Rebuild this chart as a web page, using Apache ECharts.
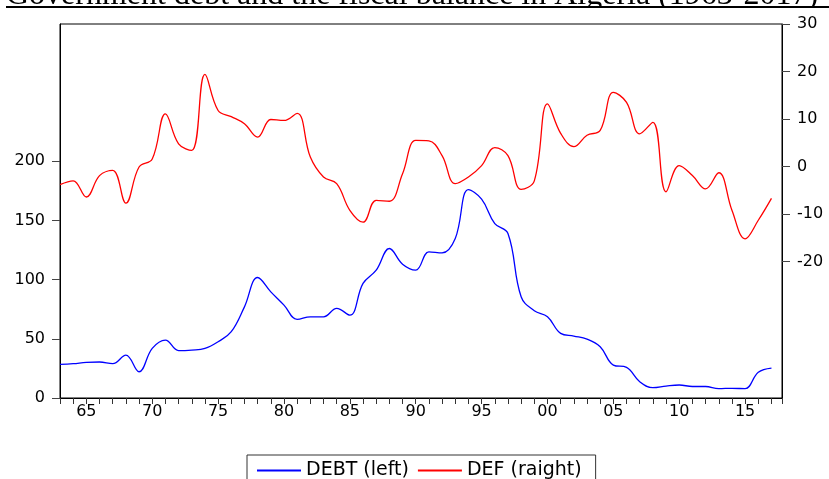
<!DOCTYPE html>
<html>
<head>
<meta charset="utf-8">
<script src="https://cdn.jsdelivr.net/npm/echarts@6/dist/echarts.min.js"></script>
<style>
html,body{margin:0;padding:0;background:#fff;}
#chart{width:829px;height:479px;}
</style>
</head>
<body>
<div id="chart"></div>
<script>
var years = [];
for (var y = 1963; y <= 2017; y++) years.push(y);

var debt = [28.4, 29, 30.1, 30.4, 29, 36.3, 22.2, 41.9, 48.9, 40,
  40.5, 41.9, 47.5, 56, 77, 101.8, 89.7, 78.5, 66.4, 68.6,
  68.6, 75.7, 70, 96.8, 108, 126.3, 113, 108, 123.5, 122.6,
  134.8, 176, 168, 147.4, 139, 85.5, 73.7, 68.6, 54.6, 52.3,
  49.8, 43.3, 27.8, 25.9, 13.8, 8.7, 10.1, 11, 9.7, 9.7,
  7.9, 8.2, 7.9, 21.7, 25.3];

var def = [-3.8, -3.0, -6.4, -1.9, -0.8, -7.7, -0.1, 1.6, 11.1, 4.8,
  3.4, 19.4, 11.8, 10.5, 9.0, 6.2, 9.9, 9.7, 11.2, 2.0,
  -2.2, -3.6, -9.2, -11.7, -7.1, -7.3, -1.5, 5.5, 5.4, 2.3,
  -3.6, -2.2, 0.2, 4.0, 2.3, -4.8, -3.0, 13.2, 7.0, 4.2,
  6.6, 7.6, 15.6, 13.5, 6.9, 9.3, -5.3, 0.2, -1.9, -4.7,
  -1.3, -9.2, -15.2, -11.3, -6.7];

var xLabelYears = [1965, 1970, 1975, 1980, 1985, 1990, 1995, 2000, 2005, 2010, 2015];
var leftTicks = [0, 50, 100, 150, 200];
var rightTicks = [-20, -10, 0, 10, 20, 30];
var titleText = 'Government debt and the fiscal balance in Algeria (1963-2017)';
var seriesNames = ['DEBT (left)', 'DEF (raight)'];
var seriesColors = ['#0000ff', '#ff0000'];

function pairs(vals) { return years.map(function (yr, i) { return [yr, vals[i]]; }); }

var font = 'DejaVu Sans';
var chart = echarts.init(document.getElementById('chart'));
chart.setOption({
  animation: false,
  backgroundColor: '#fff',
  graphic: [
    {type: 'text', left: 6, top: -20, z: 1,
      style: {text: titleText, font: '32px "Liberation Serif"', fill: '#000'}},
    {type: 'rect', shape: {x: 0, y: 8, width: 829, height: 5}, style: {fill: '#fff'}, z: 2},
    {type: 'rect', shape: {x: 6, y: 6, width: 823, height: 2}, style: {fill: '#000'}, z: 3}
  ],
  grid: {left: 60, right: 47, top: 24, bottom: 81, show: true, borderColor: '#000', borderWidth: 1},
  legend: {
    data: seriesNames,
    left: 247, top: 455, orient: 'horizontal',
    itemWidth: 44, itemHeight: 14, itemGap: 8,
    padding: [6, 14, 10, 9],
    borderColor: '#333', borderWidth: 1,
    itemStyle: {opacity: 0, borderWidth: 0},
    textStyle: {fontFamily: font, fontSize: 19, color: '#000'}
  },
  xAxis: [{
    type: 'value', min: 1963, max: 2017.8, interval: 1,
    axisLine: {show: true, onZero: false, lineStyle: {color: '#000', width: 1}},
    axisTick: {show: true, length: 6, lineStyle: {color: '#333'}},
    axisLabel: {show: true, customValues: xLabelYears, margin: 6, fontFamily: font, fontSize: 16, color: '#000',
      formatter: function (v) { return String(Math.round(v) % 100).padStart(2, '0'); }},
    splitLine: {show: false}
  }],
  yAxis: [{
    type: 'value', min: 0, max: 316, interval: 50, position: 'left',
    axisLine: {show: true, lineStyle: {color: '#000', width: 1}},
    axisTick: {show: true, length: 8, customValues: leftTicks, lineStyle: {color: '#444'}},
    axisLabel: {customValues: leftTicks, margin: 15, fontFamily: font, fontSize: 16, color: '#000', padding: [0, 0, 7, 0]},
    splitLine: {show: false}
  }, {
    type: 'value', min: -48.7, max: 30, position: 'right', alignTicks: false,
    axisLine: {show: true, lineStyle: {color: '#000', width: 1}},
    axisTick: {show: true, length: 8, customValues: rightTicks, lineStyle: {color: '#444'}},
    axisLabel: {customValues: rightTicks, margin: 15, fontFamily: font, fontSize: 16, color: '#000', padding: [0, 0, 7, 0]},
    splitLine: {show: false}
  }],
  series: [{
    name: seriesNames[0], type: 'line', yAxisIndex: 0,
    data: pairs(debt), smooth: 0.4, symbol: 'none',
    lineStyle: {color: seriesColors[0], width: 1.3}, itemStyle: {color: seriesColors[0]}
  }, {
    name: seriesNames[1], type: 'line', yAxisIndex: 1,
    data: pairs(def), smooth: 0.4, symbol: 'none',
    lineStyle: {color: seriesColors[1], width: 1.3}, itemStyle: {color: seriesColors[1]}
  }]
});
</script>
</body>
</html>
